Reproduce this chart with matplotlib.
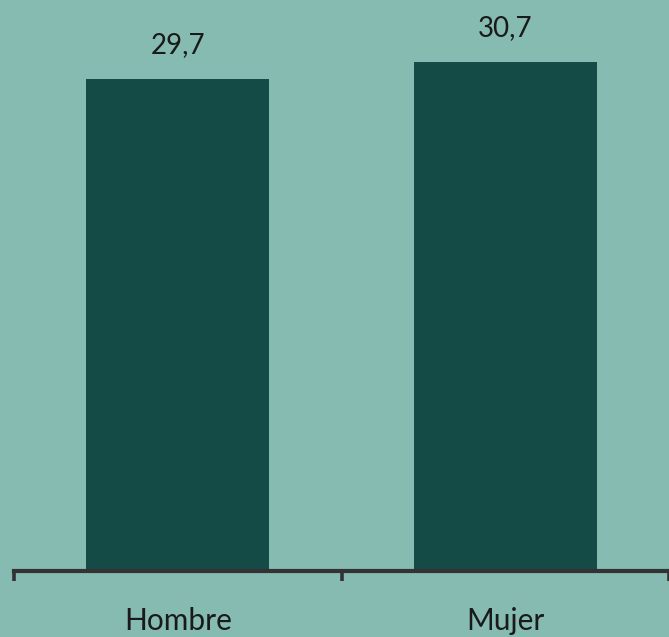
import matplotlib
matplotlib.use("Agg")
import matplotlib.pyplot as plt

categories = ["Hombre", "Mujer"]
values = [29.7, 30.7]
value_labels = ["29,7", "30,7"]

bg = "#85BBB1"
bar_color = "#154B46"
axis_color = "#333333"

fig = plt.figure(figsize=(6.69, 6.37), dpi=100, facecolor=bg)
ax = fig.add_axes([14/669, 66/637, 655/669, 571/637])
ax.set_facecolor(bg)

x = list(range(len(categories)))
ax.bar(x, values, width=0.56, color=bar_color, zorder=2)
ax.set_xlim(-0.5, 1.5)
ax.set_ylim(0, 34.46)

for xi, v, lab in zip(x, values, value_labels):
    ax.annotate(lab, (xi, v), xytext=(0, 15), textcoords="offset points",
                ha="center", va="bottom", fontsize=20, family="Lato",
                fontweight="normal", color="#1a1a1a")

for s in ["top", "right", "left"]:
    ax.spines[s].set_visible(False)
ax.spines["bottom"].set_color(axis_color)
ax.spines["bottom"].set_linewidth(3.0)
ax.spines["bottom"].set_zorder(3)
ax.set_yticks([])
ax.set_xticks([-0.5, 0.5, 1.5], minor=False)
ax.set_xticklabels([])
ax.tick_params(axis="x", which="major", direction="out", length=7, width=2.6,
               color=axis_color)
ax.set_xticks(x, minor=True)
ax.set_xticklabels(categories, minor=True, fontsize=21.5, family="Lato",
                   fontweight="normal", color="#1a1a1a")
ax.tick_params(axis="x", which="minor", length=0, pad=26)

fig.savefig("out.png", dpi=100, facecolor=bg)
